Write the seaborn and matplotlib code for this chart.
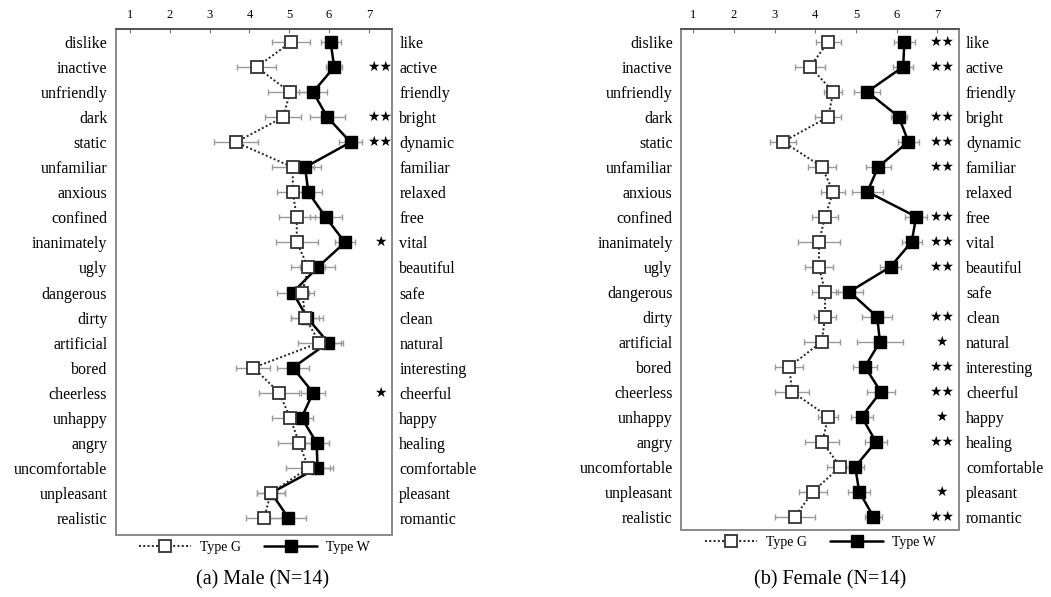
import matplotlib
matplotlib.use("Agg")
import matplotlib.pyplot as plt
from matplotlib.lines import Line2D
import numpy as np
import pandas as pd
import seaborn as sns

# negative / positive adjective pairs (SD scale rows)
neg_words = ["dislike", "inactive", "unfriendly", "dark", "static", "unfamiliar", "anxious",
             "confined", "inanimately", "ugly", "dangerous", "dirty", "artificial", "bored",
             "cheerless", "unhappy", "angry", "uncomfortable", "unpleasant", "realistic"]
pos_words = ["like", "active", "friendly", "bright", "dynamic", "familiar", "relaxed",
             "free", "vital", "beautiful", "safe", "clean", "natural", "interesting",
             "cheerful", "happy", "healing", "comfortable", "pleasant", "romantic"]

male_g = [5.05, 4.18, 5.02, 4.85, 3.66, 5.09, 5.09, 5.19, 5.19, 5.48,
          5.33, 5.40, 5.76, 4.10, 4.75, 5.02, 5.25, 5.48, 4.54, 4.37]
male_w = [6.04, 6.13, 5.60, 5.96, 6.54, 5.40, 5.48, 5.92, 6.40, 5.71,
          5.09, 5.45, 5.98, 5.09, 5.60, 5.31, 5.69, 5.71, 4.55, 4.98]
male_g_err = [0.48, 0.50, 0.55, 0.45, 0.55, 0.53, 0.40, 0.45, 0.53, 0.43,
              0.30, 0.36, 0.53, 0.43, 0.50, 0.45, 0.53, 0.55, 0.35, 0.45]
male_w_err = [0.25, 0.20, 0.35, 0.45, 0.30, 0.40, 0.35, 0.40, 0.25, 0.45,
              0.40, 0.40, 0.38, 0.40, 0.30, 0.30, 0.30, 0.38, 0.35, 0.45]
male_stars = ["", "★★", "", "★★", "★★", "", "", "", "★", "",
              "", "", "", "", "★", "", "", "", "", ""]

female_g = [4.32, 3.87, 4.44, 4.32, 3.21, 4.16, 4.44, 4.24, 4.09, 4.09,
            4.24, 4.24, 4.16, 3.36, 3.43, 4.32, 4.17, 4.61, 3.94, 3.50]
female_w = [6.19, 6.16, 5.28, 6.05, 6.29, 5.55, 5.28, 6.48, 6.37, 5.85,
            4.84, 5.52, 5.59, 5.22, 5.61, 5.14, 5.49, 4.98, 5.08, 5.43]
female_g_err = [0.30, 0.37, 0.22, 0.32, 0.32, 0.34, 0.30, 0.32, 0.52, 0.34,
                0.32, 0.27, 0.44, 0.34, 0.42, 0.25, 0.42, 0.32, 0.34, 0.49]
female_w_err = [0.25, 0.25, 0.32, 0.20, 0.25, 0.30, 0.39, 0.27, 0.25, 0.25,
                0.34, 0.37, 0.57, 0.30, 0.34, 0.27, 0.27, 0.22, 0.27, 0.22]
female_stars = ["★★", "★★", "", "★★", "★★", "★★", "", "★★", "★★", "★★",
                "", "★★", "★", "★★", "★★", "★", "★★", "", "★", "★★"]

scale_ticks = [1, 2, 3, 4, 5, 6, 7]

sns.set_theme(style="white")
plt.rcParams["font.family"] = ["Liberation Serif", "DejaVu Sans"]
plt.rcParams["text.color"] = "black"
plt.rcParams["xtick.labelcolor"] = "black"
plt.rcParams["ytick.labelcolor"] = "black"

G_STYLE = dict(color="#222222", linestyle=(0, (1.0, 1.2)), linewidth=1.4, marker="s",
               markersize=9, markerfacecolor="white", markeredgecolor="#333333",
               markeredgewidth=1.3)
W_STYLE = dict(color="black", linestyle="-", linewidth=1.8, marker="s",
               markersize=9, markerfacecolor="black", markeredgecolor="black",
               markeredgewidth=1.0)


def draw_panel(ax, g, w, g_err, w_err, stars, xlim, ylim, star_x, caption, cap_x):
    rows = np.arange(len(neg_words))
    df = pd.DataFrame({"row": np.concatenate([rows, rows]),
                       "score": g + w,
                       "type": ["Type G"] * len(g) + ["Type W"] * len(w)})

    # error bars (grey, capped) underneath the markers
    ax.errorbar(w, rows, xerr=w_err, fmt="none", ecolor="#9a9a9a", elinewidth=1.0,
                capsize=2.5, capthick=1.0, zorder=1)
    ax.errorbar(g, rows, xerr=g_err, fmt="none", ecolor="#9a9a9a", elinewidth=1.0,
                capsize=2.5, capthick=1.0, zorder=1)

    sns.lineplot(data=df[df["type"] == "Type W"], x="score", y="row", orient="y",
                 estimator=None, ax=ax, zorder=3, **W_STYLE)
    sns.lineplot(data=df[df["type"] == "Type G"], x="score", y="row", orient="y",
                 estimator=None, ax=ax, zorder=4, **G_STYLE)

    for r, s in zip(rows, stars):
        if s:
            ax.text(star_x, r, s, ha="center", va="center", fontsize=10,
                    family="DejaVu Sans", color="black")

    ax.set_xlim(*xlim)
    ax.set_ylim(*ylim)
    ax.xaxis.tick_top()
    ax.set_xticks(scale_ticks)
    ax.set_xticklabels([str(t) for t in scale_ticks])
    ax.tick_params(axis="x", direction="in", length=3, width=0.8, color="#777777",
                   labelsize=9, pad=6, top=True, bottom=False)
    ax.set_yticks(rows)
    ax.set_yticklabels(neg_words)
    ax.tick_params(axis="y", length=0, labelsize=11.5, pad=6)
    ax.set_xlabel("")
    ax.set_ylabel("")

    twin = ax.twinx()
    twin.set_ylim(*ylim)
    twin.set_yticks(rows)
    twin.set_yticklabels(pos_words)
    twin.tick_params(axis="y", length=0, labelsize=11.5, pad=5)
    twin.grid(False)

    for a in (ax, twin):
        for side, sp in a.spines.items():
            sp.set_color("#8c8c8c")
            sp.set_linewidth(1.3)
        a.spines["top"].set_color("#555555")

    handles = [Line2D([], [], **G_STYLE), Line2D([], [], **W_STYLE)]
    ax.legend(handles, ["Type G", "Type W"], loc="center",
              bbox_to_anchor=(0.5, -0.024), ncol=2, frameon=False,
              fontsize=10, handlelength=3.8, handletextpad=0.6,
              columnspacing=1.7, borderaxespad=0)
    ax.figure.text(cap_x, 1 - 580 / 597, caption, ha="center", va="center",
                   fontsize=14.5)


fig = plt.figure(figsize=(10.51, 5.97), dpi=100)
ax_m = fig.add_axes([115.7 / 1051, 1 - 535 / 597, 276.6 / 1051, 506 / 597])
ax_f = fig.add_axes([681 / 1051, 1 - 530 / 597, 278 / 1051, 501 / 597])

draw_panel(ax_m, male_g, male_w, male_g_err, male_w_err, male_stars,
           (0.641, 7.59), (19.68, -0.52), 7.28, "(a) Male (N=14)", 263 / 1051)
draw_panel(ax_f, female_g, female_w, female_g_err, female_w_err, female_stars,
           (0.698, 7.533), (19.53, -0.51), 7.11, "(b) Female (N=14)", 830 / 1051)

fig.savefig("out.png", dpi=100, facecolor="white")
